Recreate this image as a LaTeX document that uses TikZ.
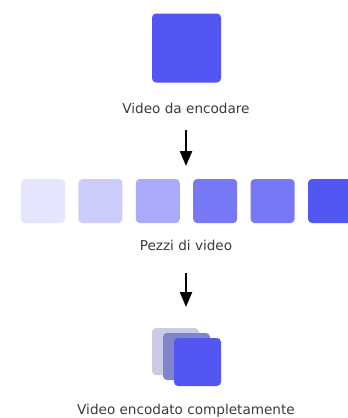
\documentclass[tikz,border=0pt]{standalone}
\usepackage{fontspec}
\setmainfont{DejaVu Sans}
\usepackage{tikz}
\usetikzlibrary{arrows.meta}

\definecolor{vid}{RGB}{84,86,244}
\definecolor{ghost}{RGB}{203,203,232}
\definecolor{mid}{RGB}{128,132,200}
\definecolor{txt}{RGB}{58,58,58}

\tikzset{
  tile/.style={fill=#1, draw=none, rounded corners=4pt, inner sep=0pt},
  caption/.style={text=txt, font=\fontsize{13.6}{15}\selectfont, inner sep=0pt, anchor=base},
  flow/.style={-{Triangle[length=15pt,width=12pt]}, line width=2.3pt, black}
}

\begin{document}
\begin{tikzpicture}[x=1pt,y=-1pt]
      \useasboundingbox (0,0) rectangle (348,418);

      % video to encode
      \node[tile=vid, minimum size=69pt] (src) at (186.5,48) {};
      \node[caption] (srclabel) at (186,113) {Video da encodare};

      % chunks
      \foreach \i/\s in {1/15,2/30,3/50,4/80,5/80,6/100}
        \node[tile=vid!\s, minimum size=44pt] (chunk\i) at ({43+57.4*(\i-1)},201) {};
      \node[caption] (chunklabel) at (186,250) {Pezzi di video};

      % encoded video
      \node[tile=ghost, minimum size=47pt] (encback) at (175.5,351.5) {};
      \node[tile=mid, minimum size=47pt] (encmid) at (186.5,356.5) {};
      \node[tile=vid, minimum width=47pt, minimum height=48pt] (encfront) at (197.5,362) {};
      \node[caption] (enclabel) at (186,414.5) {Video encodato completamente};

      \coordinate (in1) at (186,166);
      \coordinate (in2) at (186,307);
      \draw[flow, shorten <=17pt] (srclabel.base) -- (in1);
      \draw[flow, shorten <=23pt] (chunklabel.base) -- (in2);

    \end{tikzpicture}
\end{document}
